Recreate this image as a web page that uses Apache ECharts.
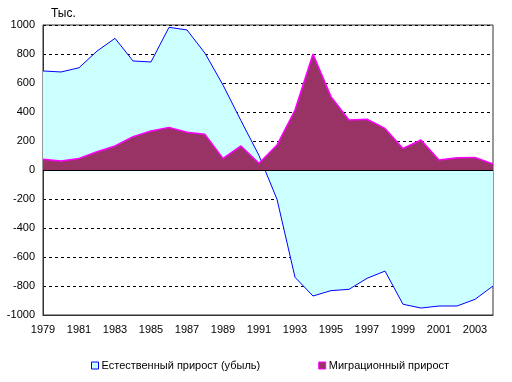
<!DOCTYPE html>
<html><head><meta charset="utf-8">
<script src="https://cdn.jsdelivr.net/npm/echarts@6/dist/echarts.min.js"></script>
<style>html,body{margin:0;padding:0;background:#fff}#c{width:512px;height:382px}</style>
</head><body><div id="c"></div>
<script>
var years = ['1979','1980','1981','1982','1983','1984','1985','1986','1987','1988','1989','1990','1991','1992','1993','1994','1995','1996','1997','1998','1999','2000','2001','2002','2003','2004'];
var natural = [683,676,705,820,908,752,745,984,966,805,586,340,100,-202,-740,-869,-832,-823,-747,-697,-926,-952,-938,-938,-892,-800];
var migration = [74,62,80,126,166,230,269,294,260,246,80,166,46,172,414,800,506,345,350,287,149,207,69,85,87,41];
var seriesNames = ['Естественный прирост (убыль)','Миграционный прирост'];
var unitLabel = 'Тыс.';
var font = 'Liberation Sans, Arial, sans-serif';
var chart = echarts.init(document.getElementById('c'));
chart.setOption({
  animation:false,
  textStyle:{fontFamily:font},
  graphic:[{type:'text',left:51,top:8,style:{text:unitLabel,font:'12px '+font,fill:'#000'}}],
  grid:{left:43,right:19,top:25,bottom:67,show:true,borderColor:'#333',borderWidth:1,backgroundColor:'transparent'},
  legend:{top:355,left:86,itemGap:58,itemWidth:7,itemHeight:7,icon:'rect',
    textStyle:{fontFamily:font,fontSize:11,color:'#000',padding:[0,0,0,-2]},
    data:[{name:seriesNames[0],itemStyle:{color:'#CCFFFF',borderColor:'#0000FF',borderWidth:1}},
          {name:seriesNames[1],itemStyle:{color:'#993366',borderColor:'#FF00FF',borderWidth:1}}]},
  xAxis:{type:'category',data:years,boundaryGap:false,
    axisLine:{onZero:false,lineStyle:{color:'#333'}},axisTick:{show:false},
    axisLabel:{interval:1,color:'#000',fontSize:11,fontFamily:font,margin:9},splitLine:{show:false}},
  yAxis:{type:'value',min:-1000,max:1000,interval:200,
    axisLine:{show:true,lineStyle:{color:'#333'}},axisTick:{show:false},
    axisLabel:{color:'#000',fontSize:11,fontFamily:font,margin:8,formatter:function(v){return String(v);}},
    splitLine:{show:true,lineStyle:{color:'#000',type:[3,3],width:1}}},
  series:[
    {name:seriesNames[0],type:'line',data:natural,symbol:'none',z:2,
      lineStyle:{color:'#0000FF',width:1},itemStyle:{color:'#0000FF'},areaStyle:{color:'#CCFFFF',opacity:1}},
    {name:seriesNames[1],type:'line',data:migration,symbol:'none',z:3,
      lineStyle:{color:'#FF00FF',width:1.5},itemStyle:{color:'#FF00FF'},areaStyle:{color:'#993366',opacity:1},
      markLine:{silent:true,symbol:'none',label:{show:false},lineStyle:{color:'#000',type:'solid',width:1},data:[{yAxis:0}]}}
  ]
});
</script></body></html>
